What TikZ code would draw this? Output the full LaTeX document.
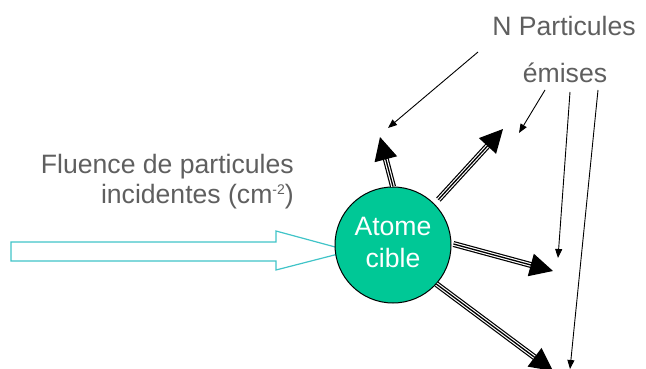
\documentclass[tikz,border=0pt]{standalone}
\usepackage{fontspec}
\setmainfont{Liberation Sans}
\usetikzlibrary{arrows.meta}
\definecolor{txtgray}{RGB}{95,95,95}
\definecolor{atomfill}{RGB}{0,200,150}
\definecolor{fluence}{RGB}{64,196,200}
\tikzset{
  lbl/.style={text=txtgray, font=\fontsize{26.6}{30}\selectfont, inner sep=0pt},
  triplearrow/.style={line width=1.3pt, -{Triangle[length=23pt,width=23pt]},
    preaction={draw, black, line width=6pt, shorten >=16pt, -},
    preaction={draw, white, line width=3.6pt, shorten >=16pt, -}},
  thinarrow/.style={line width=0.9pt, -{Triangle[length=9pt,width=7pt]}},
  atomstyle/.style={circle, draw=black, line width=1pt, fill=atomfill, minimum size=116pt,
    inner sep=0pt},
  atomtext/.style={text=white, font=\fontsize{26.6}{31}\selectfont, inner sep=0pt, anchor=base}
}
\begin{document}
\begin{tikzpicture}[x=1pt,y=-1pt]
\useasboundingbox (0,0) rectangle (646,369);
% incident fluence arrow (hollow)
\draw[fluence, line width=1.2pt, fill=white] (11,242) -- (276,242) -- (276,231) -- (350,251) -- (276,270) -- (276,261) -- (11,261) -- cycle;
% target atom
\node[atomstyle] (atom) at (393,245) {};
\node[atomtext] (atomtxt1) at (393,235) {Atome};
\node[atomtext] (atomtxt2) at (393,267) {cible};
% labels
\node[lbl, anchor=base east] (fl1) at (294,173) {Fluence de particules};
\node[lbl, anchor=base east] (fl2) at (294,203) {incidentes (cm\raisebox{9pt}{\fontsize{14}{14}\selectfont -2})};
\node[lbl, anchor=base] (np1) at (564,36) {N Particules};
\node[lbl, anchor=base] (np2) at (565,83) {émises};
% emitted particle tips
\coordinate (t1) at (380,137);
\coordinate (t2) at (503,129);
\coordinate (t3) at (553,271);
\coordinate (t4) at (553,371);
\draw[triplearrow] (atom.90) -- (t1);
\draw[triplearrow] ([shift={(4,-4)}]atom.45) -- (t2);
\draw[triplearrow] ([shift={(2,-1)}]atom.0) -- (t3);
\draw[triplearrow] (atom.-42) -- (t4);
% label pointers
\coordinate (s1) at (478,52);
\coordinate (e1) at (388,128);
\coordinate (s2) at (545,90);
\coordinate (e2) at (519,133);
\coordinate (s3) at (570,92);
\coordinate (e3) at (558,258);
\coordinate (s4) at (598,90);
\coordinate (e4) at (570,369);
\draw[thinarrow] (s1) -- (e1);
\draw[thinarrow] (s2) -- (e2);
\draw[thinarrow] (s3) -- (e3);
\draw[thinarrow] (s4) -- (e4);
\end{tikzpicture}
\end{document}
